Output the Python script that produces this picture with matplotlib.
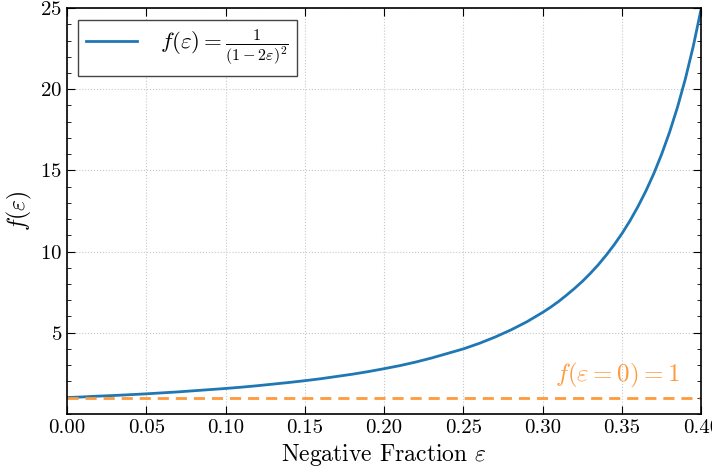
import numpy as np
import matplotlib
matplotlib.use("Agg")
import matplotlib.pyplot as plt
from matplotlib.ticker import MultipleLocator, FormatStrFormatter

# values
eps = [0.00, 0.01, 0.02, 0.03, 0.04, 0.05, 0.06, 0.07, 0.08, 0.09, 0.10,
       0.11, 0.12, 0.13, 0.14, 0.15, 0.16, 0.17, 0.18, 0.19, 0.20,
       0.21, 0.22, 0.23, 0.24, 0.25, 0.26, 0.27, 0.28, 0.29, 0.30,
       0.305, 0.31, 0.315, 0.32, 0.325, 0.33, 0.335, 0.34, 0.345, 0.35,
       0.355, 0.36, 0.365, 0.37, 0.375, 0.38, 0.385, 0.39, 0.395, 0.40]
f_eps = [1.00, 1.04, 1.09, 1.13, 1.18, 1.23, 1.29, 1.35, 1.42, 1.49, 1.56,
         1.64, 1.73, 1.83, 1.93, 2.04, 2.16, 2.30, 2.44, 2.60, 2.78,
         2.97, 3.19, 3.44, 3.72, 4.00, 4.34, 4.73, 5.17, 5.67, 6.25,
         6.57, 6.92, 7.31, 7.72, 8.16, 8.65, 9.18, 9.77, 10.41, 11.11,
         11.89, 12.76, 13.72, 14.79, 16.00, 17.36, 18.90, 20.66, 22.68, 25.00]
baseline = 1.0

plt.rcParams["font.family"] = "serif"
plt.rcParams["font.serif"] = ["cmr10"]
plt.rcParams["mathtext.fontset"] = "cm"
plt.rcParams["axes.formatter.use_mathtext"] = True

fig = plt.figure(figsize=(7.12, 4.74), dpi=100)
ax = fig.add_axes([0.094, 0.127, 0.891, 0.856])

ax.plot(eps, f_eps, color="#1f77b4", lw=2,
        label=r"$f(\varepsilon) = \frac{1}{(1-2\varepsilon)^2}$")
ax.axhline(baseline, color="#ff9a3c", lw=2, ls=(0, (4, 2.5)))
ax.text(0.3865, 1.45, r"$f(\varepsilon=0) = 1$", color="#ff9a3c",
        fontsize=18, ha="right", va="bottom")

ax.set_xlim(0, 0.4)
ax.set_ylim(0, 25)
ax.set_yticks([5, 10, 15, 20, 25])
ax.yaxis.set_minor_locator(MultipleLocator(1))
ax.xaxis.set_major_locator(MultipleLocator(0.05))
ax.xaxis.set_major_formatter(FormatStrFormatter("%.2f"))
ax.tick_params(which="both", direction="in", top=True, right=True,
               labelsize=15)
ax.tick_params(which="major", length=6)
ax.tick_params(which="minor", length=3)
for s in ax.spines.values():
    s.set_linewidth(1.2)
ax.grid(True, which="major", ls=":", color="#c8c8c8", lw=0.8)

ax.set_xlabel(r"Negative Fraction $\varepsilon$", fontsize=17)
ax.set_ylabel(r"$f(\varepsilon)$", fontsize=17)

leg = ax.legend(loc="upper left", fontsize=16.5, fancybox=False,
                edgecolor="#444444", framealpha=1, handlelength=2.2,
                borderpad=0.35, handletextpad=1.0,
                bbox_to_anchor=(0.0, 1.0))
leg.get_frame().set_linewidth(1.0)

fig.savefig("out.png", dpi=100)
